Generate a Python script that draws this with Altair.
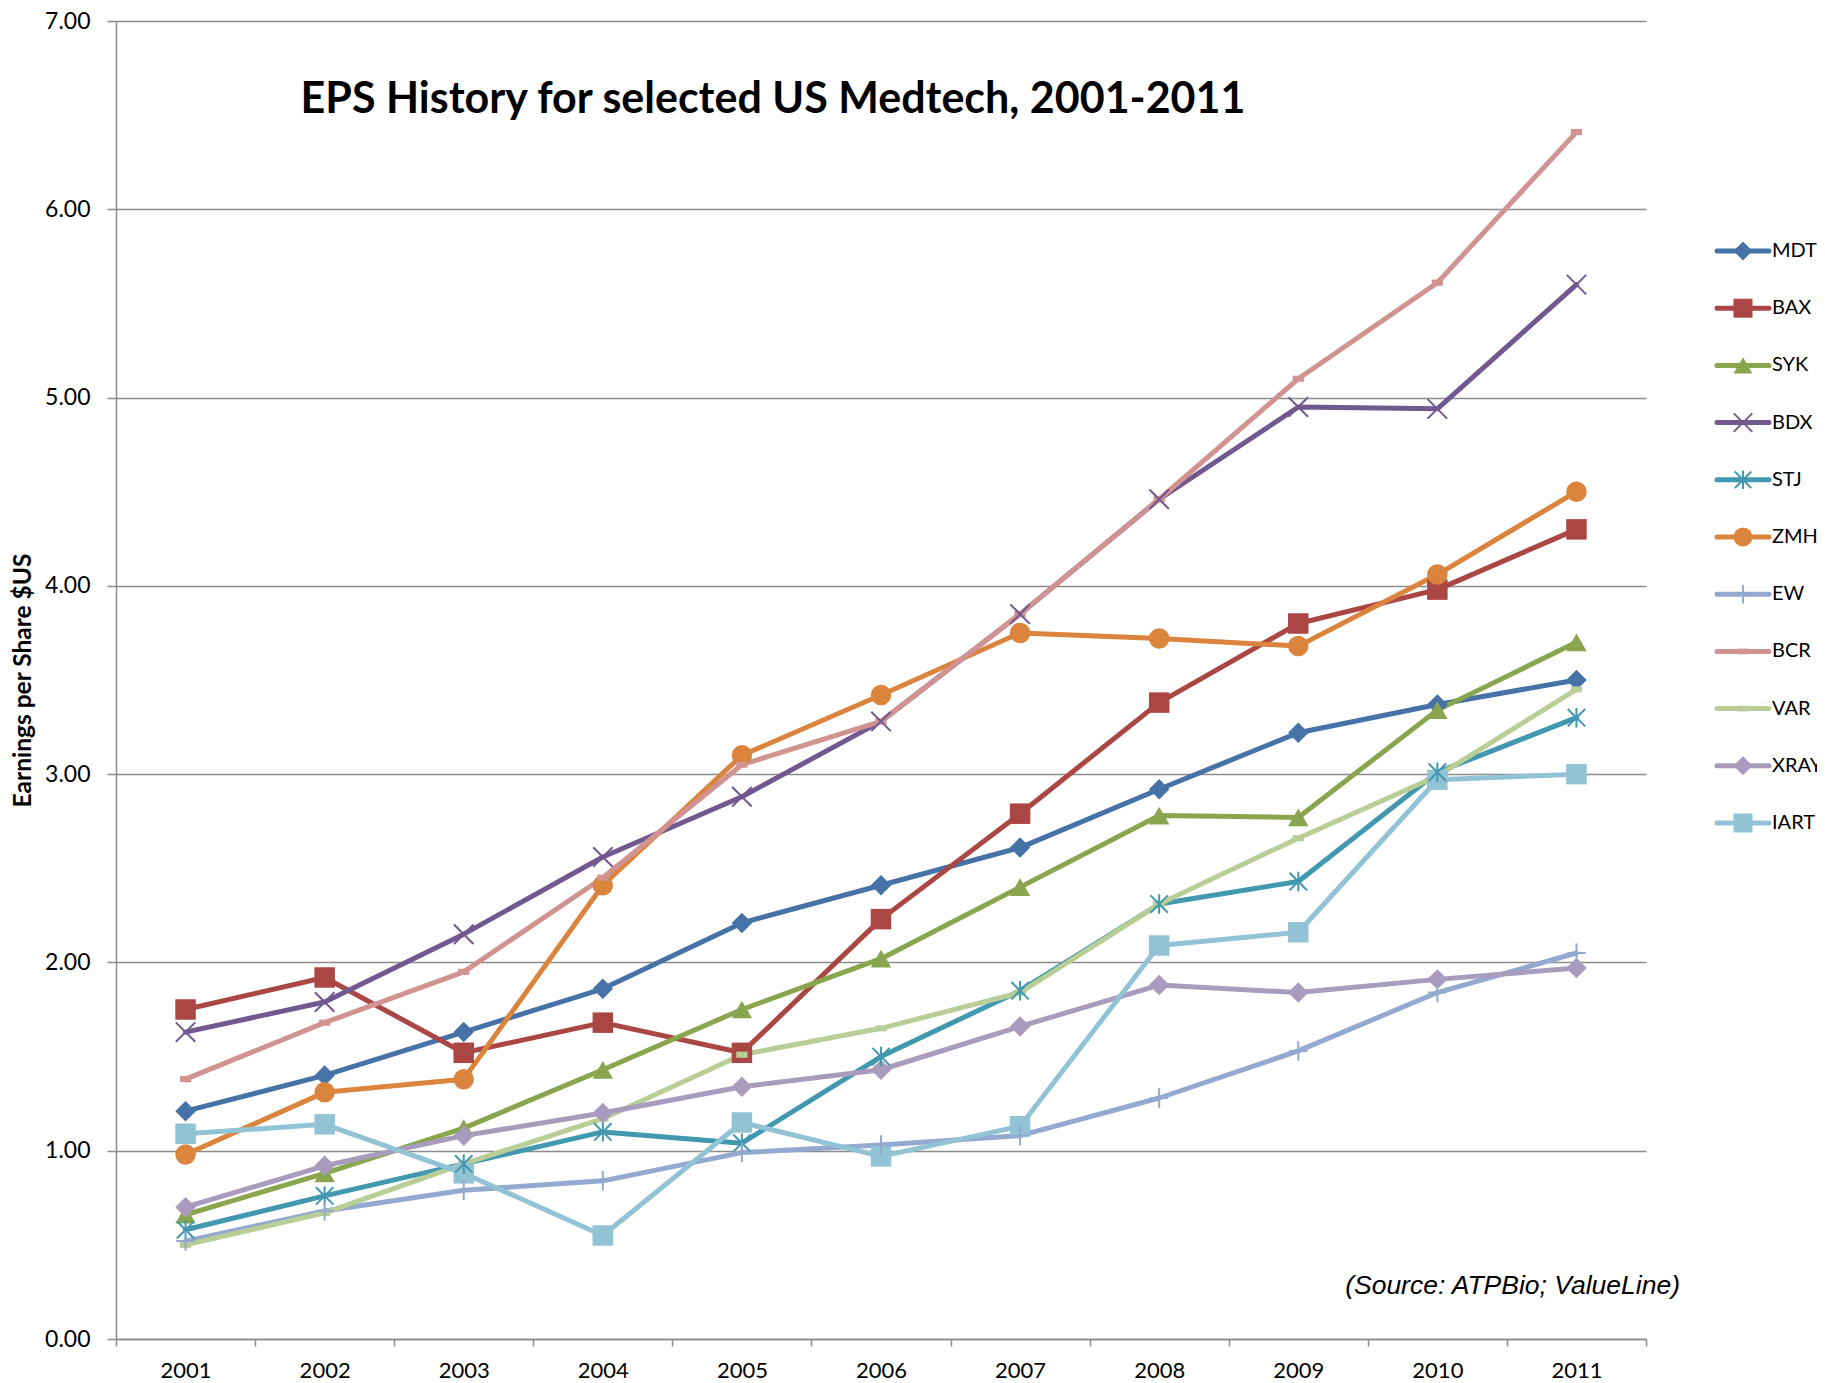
import altair as alt
import pandas as pd

# ---------------- data ----------------
years = ["2001", "2002", "2003", "2004", "2005", "2006", "2007", "2008", "2009", "2010", "2011"]
names = ["MDT", "BAX", "SYK", "BDX", "STJ", "ZMH", "EW", "BCR", "VAR", "XRAY", "IART"]

MDT = [1.21, 1.40, 1.63, 1.86, 2.21, 2.41, 2.61, 2.92, 3.22, 3.37, 3.50]
BAX = [1.75, 1.92, 1.52, 1.68, 1.52, 2.23, 2.79, 3.38, 3.80, 3.98, 4.30]
SYK = [0.66, 0.88, 1.12, 1.43, 1.75, 2.02, 2.40, 2.78, 2.77, 3.34, 3.70]
BDX = [1.63, 1.79, 2.15, 2.56, 2.88, 3.28, 3.85, 4.46, 4.95, 4.94, 5.60]
STJ = [0.58, 0.76, 0.93, 1.10, 1.04, 1.50, 1.85, 2.31, 2.43, 3.01, 3.30]
ZMH = [0.98, 1.31, 1.38, 2.41, 3.10, 3.42, 3.75, 3.72, 3.68, 4.06, 4.50]
EW = [0.52, 0.68, 0.79, 0.84, 0.99, 1.03, 1.08, 1.28, 1.53, 1.84, 2.05]
BCR = [1.38, 1.68, 1.95, 2.45, 3.05, 3.28, 3.85, 4.46, 5.10, 5.61, 6.41]
VAR = [0.50, 0.67, 0.93, 1.17, 1.51, 1.65, 1.84, 2.31, 2.66, 2.99, 3.45]
XRAY = [0.70, 0.92, 1.08, 1.20, 1.34, 1.43, 1.66, 1.88, 1.84, 1.91, 1.97]
IART = [1.09, 1.14, 0.88, 0.55, 1.15, 0.97, 1.13, 2.09, 2.16, 2.97, 3.00]

series_values = [MDT, BAX, SYK, BDX, STJ, ZMH, EW, BCR, VAR, XRAY, IART]

title_text = "EPS History for selected US Medtech, 2001-2011"
source_text = "(Source: ATPBio; ValueLine)"
y_title = "Earnings per Share $US"
y_ticks = [0, 1, 2, 3, 4, 5, 6, 7]

# ---------------- styles ----------------
colors = ["#4572A7", "#AA4643", "#89A54E", "#71588F", "#4198AF", "#DB843D",
          "#93A9CF", "#D19392", "#B9CD96", "#A99BBD", "#92C3D5"]

X_PATH = "M-0.95,-0.95L0.95,0.95M-0.95,0.95L0.95,-0.95"
STAR_PATH = "M-0.85,-0.85L0.85,0.85M-0.85,0.85L0.85,-0.85M0,-0.95L0,0.95"
PLUS_PATH = "M-0.9,0L0.9,0M0,-0.95L0,0.95"
DASH_PATH = "M-0.55,-0.3L0.55,-0.3L0.55,0.3L-0.55,0.3Z"

shapes = ["diamond", "square", "triangle-up", X_PATH, STAR_PATH, "circle",
          PLUS_PATH, DASH_PATH, DASH_PATH, "diamond", "square"]
filled_names = ["MDT", "BAX", "SYK", "ZMH", "BCR", "VAR", "XRAY", "IART"]
stroked_names = ["BDX", "STJ", "EW"]

GRID = "#8c8c8c"
FONT = "Lato"

rows = []
for n, vals in zip(names, series_values):
    for yr, v in zip(years, vals):
        rows.append({"series": n, "year": yr, "eps": v})
df = pd.DataFrame(rows)
legend_df = pd.DataFrame({"series": names})

color_enc = alt.Color("series:N", scale=alt.Scale(domain=names, range=colors), legend=None)
shape_enc = alt.Shape("series:N", scale=alt.Scale(domain=names, range=shapes), legend=None)

x_enc = alt.X(
    "year:N",
    sort=years,
    bandPosition=0.5,
    scale=alt.Scale(type="band", paddingInner=0, paddingOuter=0),
    axis=alt.Axis(
        title=None, labelAngle=0, tickBand="extent", ticks=True, tickSize=7,
        tickColor=GRID, tickWidth=1.5, domainColor=GRID, domainWidth=1.5,
        labelFont=FONT, labelFontSize=22, labelColor="black", labelPadding=14,
        grid=False,
    ),
)
y_enc = alt.Y(
    "eps:Q",
    scale=alt.Scale(domain=[0, 7], nice=False),
    axis=alt.Axis(
        title=y_title, values=y_ticks, format=".2f", tickSize=9, tickColor=GRID,
        tickWidth=1.5, domainColor=GRID, domainWidth=1.5, grid=True,
        gridColor=GRID, gridWidth=1.5, labelFont=FONT, labelFontSize=23,
        labelColor="black", labelPadding=17, titleFont=FONT, titleFontSize=24.5,
        titleFontWeight="bold", titleColor="black", titlePadding=9,
    ),
)

base = alt.Chart(df)
lines = base.mark_line(strokeWidth=5, strokeCap="round", strokeJoin="round").encode(
    x=x_enc, y=y_enc, color=color_enc
)
pts_filled = base.mark_point(filled=True, opacity=1).encode(
    x=x_enc, y=y_enc, color=color_enc, shape=shape_enc, size=alt.value(420)
).transform_filter(alt.FieldOneOfPredicate(field="series", oneOf=filled_names))
pts_stroked = base.mark_point(filled=False, opacity=1, strokeWidth=2).encode(
    x=x_enc, y=y_enc, color=color_enc, shape=shape_enc, size=alt.value(420)
).transform_filter(alt.FieldOneOfPredicate(field="series", oneOf=stroked_names))

title_mark = alt.Chart(pd.DataFrame({"t": [title_text]})).mark_text(
    font=FONT, fontSize=43, fontWeight="bold", align="center", baseline="alphabetic", color="black"
).encode(text="t:N", x=alt.value(657), y=alt.value(92))

source_mark = alt.Chart(pd.DataFrame({"t": [source_text]})).mark_text(
    font="Liberation Sans", fontSize=26.5, fontStyle="italic", align="right",
    baseline="alphabetic", color="black"
).encode(text="t:N", x=alt.value(1564), y=alt.value(1273))

main = alt.layer(lines, pts_filled, pts_stroked, title_mark, source_mark)

# ---------------- manual legend ----------------
leg_y = alt.Y("series:N", scale=alt.Scale(type="point", domain=names, range=[230, 802], padding=0), axis=None)
leg_base = alt.Chart(legend_df)
leg_rule = leg_base.mark_rule(strokeWidth=5, strokeCap="round").encode(
    x=alt.value(1601), x2=alt.value(1653), y=leg_y, color=color_enc
)
leg_filled = leg_base.mark_point(filled=True, opacity=1).encode(
    x=alt.value(1627), y=leg_y, color=color_enc, shape=shape_enc, size=alt.value(360)
).transform_filter(alt.FieldOneOfPredicate(field="series", oneOf=filled_names))
leg_stroked = leg_base.mark_point(filled=False, opacity=1, strokeWidth=2).encode(
    x=alt.value(1627), y=leg_y, color=color_enc, shape=shape_enc, size=alt.value(380)
).transform_filter(alt.FieldOneOfPredicate(field="series", oneOf=stroked_names))
leg_text = leg_base.mark_text(
    font=FONT, fontSize=20, align="left", baseline="middle", color="black"
).encode(x=alt.value(1656), y=leg_y, text="series:N")

legend = alt.layer(leg_rule, leg_filled, leg_stroked, leg_text)

chart = alt.layer(main, legend).resolve_scale(y="independent").properties(
    width=1530,
    height=1318,
    autosize=alt.AutoSizeParams(type="none"),
    padding={"left": 108, "top": 13, "right": 171, "bottom": 44},
).configure_view(stroke=None)

chart.save("out.html", embed_options={"renderer": "svg", "actions": False})
